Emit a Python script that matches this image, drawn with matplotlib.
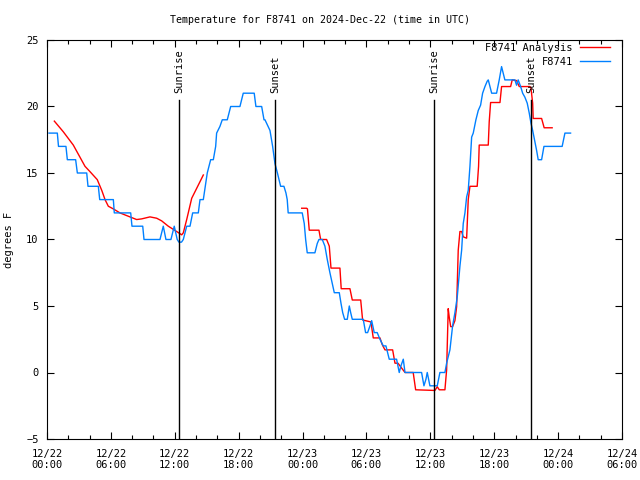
import datetime as dt
import matplotlib
matplotlib.use("Agg")
import matplotlib.pyplot as plt
import matplotlib.dates as mdates

# hours after 2024-12-22 00:00 UTC, temperatures in deg F
obs_hours = [0.19, 0.97, 1.08, 1.78, 1.91, 2.69, 2.85, 3.73, 3.85, 4.82, 4.95, 6.23, 6.32,
             7.86, 7.98, 8.99, 9.11, 10.61, 10.92, 11.17, 11.64, 11.95, 12.23, 12.39, 12.63,
             12.80, 13.12, 13.43, 13.68, 14.21, 14.37, 14.68, 14.86, 15.05, 15.37, 15.62,
             15.84, 15.93, 16.24, 16.46, 16.93, 17.25, 18.12, 18.43, 19.46, 19.62, 20.16,
             20.38, 20.47, 20.94, 21.19, 21.41, 21.64, 21.94, 22.25, 22.44, 22.56, 22.65,
             23.97, 24.16, 24.29, 24.44, 25.16, 25.38, 25.54, 25.85, 26.10, 26.32, 26.57,
             26.79, 26.98, 27.45, 27.61, 27.77, 27.95, 28.20, 28.39, 28.52, 28.67, 29.70,
             29.92, 30.11, 30.33, 30.49, 30.73, 31.01, 31.27, 31.58, 31.83, 32.14, 32.83,
             33.08, 33.24, 33.46, 33.62, 35.18, 35.40, 35.59, 35.71, 35.96, 36.65, 36.90,
             37.37, 37.53, 37.84, 38.09, 38.31, 38.53, 38.78, 38.94, 39.09, 39.25, 39.41,
             39.56, 39.72, 39.88, 40.03, 40.28, 40.50, 40.72, 40.91, 41.13, 41.34, 41.44,
             41.60, 41.76, 42.22, 42.47, 42.69, 42.84, 43.00, 43.94, 44.10, 44.25, 44.48,
             44.67, 44.88, 45.10, 45.29, 45.45, 45.61, 45.82, 45.98, 46.13, 46.45, 46.67,
             48.38, 48.64, 49.17]
obs_temps = [18, 18, 17, 17, 16, 16, 15, 15, 14, 14, 13, 13, 12,
             12, 11, 11, 10, 10, 11, 10, 10, 11, 10, 9.8, 9.8,
             10, 11, 11, 12, 12, 13, 13, 14, 15, 16, 16,
             17, 18, 18.5, 19, 19, 20, 20, 21, 21, 20, 20,
             19, 19, 18.2, 17, 15.7, 15, 14, 14, 13.5, 13, 12,
             12, 11.2, 10, 9, 9, 9.7, 10, 10, 9.5, 8.5, 7.5,
             6.7, 6, 6, 5.2, 4.5, 4, 4, 5, 4.5, 4, 4,
             3, 3, 3.5, 3.9, 3, 3, 2.5, 2, 2, 1, 1,
             0, 0.5, 1, 0, 0, -1, -0.5, 0, -1, -1, 0,
             0, 0.7, 1.7, 3.5, 4.5, 5.7, 8, 9.2, 11.2, 12, 13.2,
             13.7, 15.5, 17.7, 18, 19, 19.7, 20.1, 21, 21.5, 21.9, 22,
             21.5, 21, 21, 22, 23, 22.5, 22, 22, 21.6, 22, 21.5,
             21, 20.7, 20.25, 19.5, 18.75, 18.2, 17.35, 16.7, 16, 16, 17,
             17, 18, 18]

ana_hours = [0.69, 1.53, 2.47, 3.57, 4.04, 4.72, 5.14, 5.45, 5.76, 6.23, 6.85, 7.79, 8.42,
             8.89, 9.67, 10.30, 10.77, 11.39, 12.18, 12.65, 12.80, 13.12, 13.59, 14.37,
             14.68, 19.0,
             23.92, 24.38, 24.46, 24.63, 25.54, 25.70, 26.26, 26.51, 26.67, 27.51, 27.63,
             28.45, 28.67, 29.46, 29.64, 30.42, 30.64, 31.27, 31.48, 31.74, 32.46, 32.68,
             32.96, 33.62, 34.39, 34.62, 36.43, 36.65, 36.84, 37.37, 37.53, 37.68, 37.77,
             37.91, 38.09, 38.31, 38.47, 38.62, 38.78, 38.94, 39.09, 39.41, 39.56, 39.72,
             40.40, 40.53, 40.59, 41.44, 41.53, 41.66, 42.54, 42.69, 43.54, 43.69, 44.10,
             44.35, 45.35, 45.45, 45.61, 45.66, 46.45, 46.69, 47.44]
ana_temps = [18.9, 18.1, 17.1, 15.5, 15.1, 14.5, 13.7, 13.0, 12.5, 12.3, 12.0, 11.7, 11.5,
             11.55, 11.7, 11.6, 11.4, 11.0, 10.6, 10.35, 10.5, 11.5, 13.1, 14.35,
             14.85, float("nan"),
             12.35, 12.35, 12.3, 10.7, 10.7, 10.0, 10.0, 9.5, 7.85, 7.85, 6.3,
             6.3, 5.45, 5.45, 3.95, 3.8, 2.6, 2.6, 2.1, 1.7, 1.7, 0.7,
             0.7, 0, 0, -1.3, -1.35, -1.07, -1.3, -1.3, 0.2, 4.8, 4.2,
             3.45, 3.45, 3.9, 4.95, 9.2, 10.6, 10.6, 10.2, 10.1, 13.0, 14.0,
             14.0, 15.5, 17.1, 17.1, 18.85, 20.3, 20.3, 21.5, 21.5, 22.0, 21.95,
             21.5, 21.5, 21.4, 20.25, 19.1, 19.1, 18.4, 18.4]

sun_hours = [12.4, 21.4, 36.35, 45.45]
sun_labels = ["Sunrise", "Sunset", "Sunrise", "Sunset"]

base = dt.datetime(2024, 12, 22)
def to_dt(hours):
    return [base + dt.timedelta(hours=h) for h in hours]

plt.rcParams["font.family"] = ["DejaVu Sans Mono"]
plt.rcParams["font.size"] = 7

fig = plt.figure(figsize=(6.4, 4.8), dpi=100)
ax = fig.add_axes([47 / 640, 41 / 480, 575 / 640, 399 / 480])

ax.plot(to_dt(ana_hours), ana_temps, color="#ff0000", lw=1.0, label="F8741 Analysis")
ax.plot(to_dt(obs_hours), obs_temps, color="#0080ff", lw=1.0, label="F8741")

for h, lab in zip(sun_hours, sun_labels):
    t = base + dt.timedelta(hours=h)
    ax.plot([t, t], [0, 0.85], color="black", lw=1.0, transform=ax.get_xaxis_transform())
    ax.text(t, 0.866, lab, rotation=90, ha="center", va="bottom",
            transform=ax.get_xaxis_transform(), fontsize=7.5)

ax.set_xlim(base, base + dt.timedelta(hours=54))
ax.set_ylim(-5, 25)
ax.set_yticks([-5, 0, 5, 10, 15, 20, 25])
ax.xaxis.set_major_locator(mdates.HourLocator(byhour=[0, 6, 12, 18]))
ax.xaxis.set_minor_locator(mdates.HourLocator(interval=2))
ax.xaxis.set_major_formatter(mdates.DateFormatter("%m/%d\n%H:%M"))
ax.tick_params(direction="in", top=True, right=True, length=5, width=0.8, labelsize=7.5)
ax.tick_params(axis="x", pad=7)
ax.tick_params(axis="y", pad=6)
ax.tick_params(which="minor", direction="in", top=True, bottom=True, length=3, width=0.8)
for s in ax.spines.values():
    s.set_linewidth(0.8)

ax.set_ylabel("degrees F", labelpad=9, fontsize=7.5)
fig.text(0.5, 1 - 20 / 480, "Temperature for F8741 on 2024-Dec-22 (time in UTC)",
         ha="center", va="center", fontsize=7.2)

ax.legend(loc="upper right", frameon=False, markerfirst=False, handlelength=2.9,
          borderaxespad=0.0, borderpad=0.3, labelspacing=0.35, handletextpad=0.7,
          fontsize=7.5, bbox_to_anchor=(0.985, 1.0))

fig.savefig("out.png", dpi=100)
